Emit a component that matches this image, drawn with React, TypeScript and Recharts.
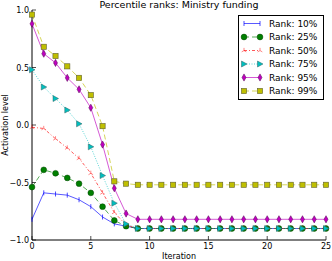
import React from 'react';
import { LineChart, Line, XAxis, YAxis } from 'recharts';

const iterations = [0,1,2,3,4,5,6,7,8,9,10,11,12,13,14,15,16,17,18,19,20,21,22,23,24,25];
const rank10 = [-0.82,-0.59,-0.60,-0.61,-0.65,-0.71,-0.80,-0.86,-0.88,-0.90,-0.90,-0.90,-0.90,-0.90,-0.90,-0.90,-0.90,-0.90,-0.90,-0.90,-0.90,-0.90,-0.90,-0.90,-0.90,-0.90];
const rank25 = [-0.54,-0.39,-0.42,-0.46,-0.51,-0.59,-0.71,-0.83,-0.88,-0.90,-0.90,-0.90,-0.90,-0.90,-0.90,-0.90,-0.90,-0.90,-0.90,-0.90,-0.90,-0.90,-0.90,-0.90,-0.90,-0.90];
const rank50 = [-0.02,-0.03,-0.12,-0.20,-0.29,-0.42,-0.59,-0.76,-0.87,-0.90,-0.90,-0.90,-0.90,-0.90,-0.90,-0.90,-0.90,-0.90,-0.90,-0.90,-0.90,-0.90,-0.90,-0.90,-0.90,-0.90];
const rank75 = [0.48,0.33,0.23,0.13,0.01,-0.19,-0.44,-0.68,-0.86,-0.90,-0.90,-0.90,-0.90,-0.90,-0.90,-0.90,-0.90,-0.90,-0.90,-0.90,-0.90,-0.90,-0.90,-0.90,-0.90,-0.90];
const rank95 = [0.88,0.62,0.54,0.41,0.31,0.15,-0.17,-0.55,-0.77,-0.82,-0.82,-0.82,-0.82,-0.82,-0.82,-0.82,-0.82,-0.82,-0.82,-0.82,-0.82,-0.82,-0.82,-0.82,-0.82,-0.82];
const rank99 = [0.96,0.68,0.60,0.51,0.41,0.26,-0.01,-0.49,-0.51,-0.52,-0.52,-0.52,-0.52,-0.52,-0.52,-0.52,-0.52,-0.52,-0.52,-0.52,-0.52,-0.52,-0.52,-0.52,-0.52,-0.52];
const xTicks = [0, 5, 10, 15, 20, 25];
const yTicks = [-1.0, -0.5, 0.0, 0.5, 1.0];
const seriesNames = ['Rank: 10%', 'Rank: 25%', 'Rank: 50%', 'Rank: 75%', 'Rank: 95%', 'Rank: 99%'];

const styles = [
  { key: 'r10', vals: rank10, color: '#0000ff', dash: undefined, marker: 'vline' },
  { key: 'r25', vals: rank25, color: '#008000', dash: '5 3', marker: 'circle' },
  { key: 'r50', vals: rank50, color: '#ff0000', dash: '3 2 1 2', marker: 'tri' },
  { key: 'r75', vals: rank75, color: '#00bfbf', dash: '1 1.5', marker: 'right' },
  { key: 'r95', vals: rank95, color: '#bf00bf', dash: undefined, marker: 'diamond' },
  { key: 'r99', vals: rank99, color: '#bfbf00', dash: '5 3', marker: 'square' },
];

const data = iterations.map((it, i) => ({
  it,
  r10: rank10[i], r25: rank25[i], r50: rank50[i], r75: rank75[i], r95: rank95[i], r99: rank99[i],
}));

const FONT = 'DejaVu Sans';

function Marker({ cx, cy, kind, color }: any) {
  if (cx == null || cy == null) return null;
  switch (kind) {
    case 'vline':
      return <line x1={cx} y1={cy - 2.5} x2={cx} y2={cy + 2.5} stroke={color} strokeWidth={1} opacity={0.7} />;
    case 'circle':
      return <circle cx={cx} cy={cy} r={2.9} fill={color} stroke="#004000" strokeWidth={0.5} />;
    case 'tri':
      return (
        <g stroke={color} strokeWidth={0.8} opacity={0.6}>
          <line x1={cx} y1={cy} x2={cx} y2={cy - 2.6} />
          <line x1={cx} y1={cy} x2={cx - 2.3} y2={cy + 1.4} />
          <line x1={cx} y1={cy} x2={cx + 2.3} y2={cy + 1.4} />
        </g>
      );
    case 'right':
      return <polygon points={`${cx + 3},${cy} ${cx - 2.5},${cy - 3} ${cx - 2.5},${cy + 3}`} fill={color} stroke="#306060" strokeWidth={0.5} />;
    case 'diamond':
      return <polygon points={`${cx},${cy - 3.6} ${cx + 2},${cy} ${cx},${cy + 3.6} ${cx - 2},${cy}`} fill={color} stroke="#500050" strokeWidth={0.5} />;
    case 'square':
      return <rect x={cx - 2.6} y={cy - 2.6} width={5.2} height={5.2} fill={color} stroke="#606030" strokeWidth={0.6} />;
  }
  return null;
}

const fmt = (v: number) => (v < 0 ? '\u2212' + Math.abs(v).toFixed(1) : v.toFixed(1));

function BottomTick({ x, y, payload }: any) {
  return (
    <g>
      <line x1={x} y1={240} x2={x} y2={236} stroke="#000" strokeWidth={0.7} />
      <text x={x} y={249} textAnchor="middle" fontSize={8} fontFamily={FONT} fill="#000">{payload.value}</text>
    </g>
  );
}
function TopTick({ x, payload }: any) {
  return <line x1={x} y1={10} x2={x} y2={14} stroke="#000" strokeWidth={0.7} />;
}
function LeftTick({ y, payload }: any) {
  return (
    <g>
      <line x1={32} y1={y} x2={36} y2={y} stroke="#000" strokeWidth={0.7} />
      <text x={29} y={y + 3} textAnchor="end" fontSize={8} fontFamily={FONT} fill="#000">{fmt(payload.value)}</text>
    </g>
  );
}
function RightTick({ y }: any) {
  return <line x1={326} y1={y} x2={322} y2={y} stroke="#000" strokeWidth={0.7} />;
}

export default function App() {
  return (
    <div style={{ position: 'absolute', left: 0, top: 0, width: 332, height: 261, background: '#fff' }}>
      <LineChart width={332} height={261} data={data} margin={{ top: 10, right: 6, bottom: 0, left: 0 }}>
        <XAxis dataKey="it" type="number" domain={[0, 25]} ticks={xTicks} height={21} tickSize={0} tickLine={false}
          axisLine={{ stroke: '#000', strokeWidth: 1 }} tick={<BottomTick />} interval={0} />
        <XAxis xAxisId="top" orientation="top" dataKey="it" type="number" domain={[0, 25]} ticks={xTicks} height={0} tickSize={0}
          tickLine={false} axisLine={{ stroke: '#000', strokeWidth: 1 }} tick={<TopTick />} interval={0} />
        <YAxis type="number" domain={[-1, 1]} ticks={yTicks} width={32} tickSize={0} tickLine={false}
          axisLine={{ stroke: '#000', strokeWidth: 1 }} tick={<LeftTick />} interval={0} allowDataOverflow />
        <YAxis yAxisId="right" orientation="right" type="number" domain={[-1, 1]} ticks={yTicks} width={0} tickSize={0}
          tickLine={false} axisLine={{ stroke: '#000', strokeWidth: 1 }} tick={<RightTick />} interval={0} allowDataOverflow />
        {styles.map((s) => (
          <Line key={s.key} dataKey={s.key} type="linear" stroke={s.color} strokeOpacity={0.65} strokeWidth={1}
            strokeDasharray={s.dash} isAnimationActive={false}
            dot={(p: any) => <Marker key={`${s.key}-${p.index}`} cx={p.cx} cy={p.cy} kind={s.marker} color={s.color} />} />
        ))}
      </LineChart>
      <svg width={332} height={261} style={{ position: 'absolute', left: 0, top: 0, pointerEvents: 'none' }}>
        <text x={179} y={8} textAnchor="middle" fontSize={9.5} fontFamily={FONT} fill="#000">Percentile ranks: Ministry funding</text>
        <text x={179} y={259} textAnchor="middle" fontSize={8} fontFamily={FONT} fill="#000">Iteration</text>
        <text x={8} y={125} textAnchor="middle" fontSize={8} fontFamily={FONT} fill="#000" transform="rotate(-90 8 125)">Activation level</text>
        <rect x={238.5} y={15.5} width={85} height={84} fill="#fff" stroke="#000" strokeWidth={1} />
        {styles.map((s, i) => {
          const cy = 23.5 + i * 13.5;
          return (
            <g key={s.key}>
              <line x1={244} y1={cy} x2={260} y2={cy} stroke={s.color} strokeOpacity={0.65} strokeDasharray={s.dash} />
              <Marker cx={244} cy={cy} kind={s.marker} color={s.color} />
              <Marker cx={260} cy={cy} kind={s.marker} color={s.color} />
              <text x={269} y={cy + 3.3} fontSize={9} fontFamily={FONT} fill="#000">{seriesNames[i]}</text>
            </g>
          );
        })}
      </svg>
    </div>
  );
}
